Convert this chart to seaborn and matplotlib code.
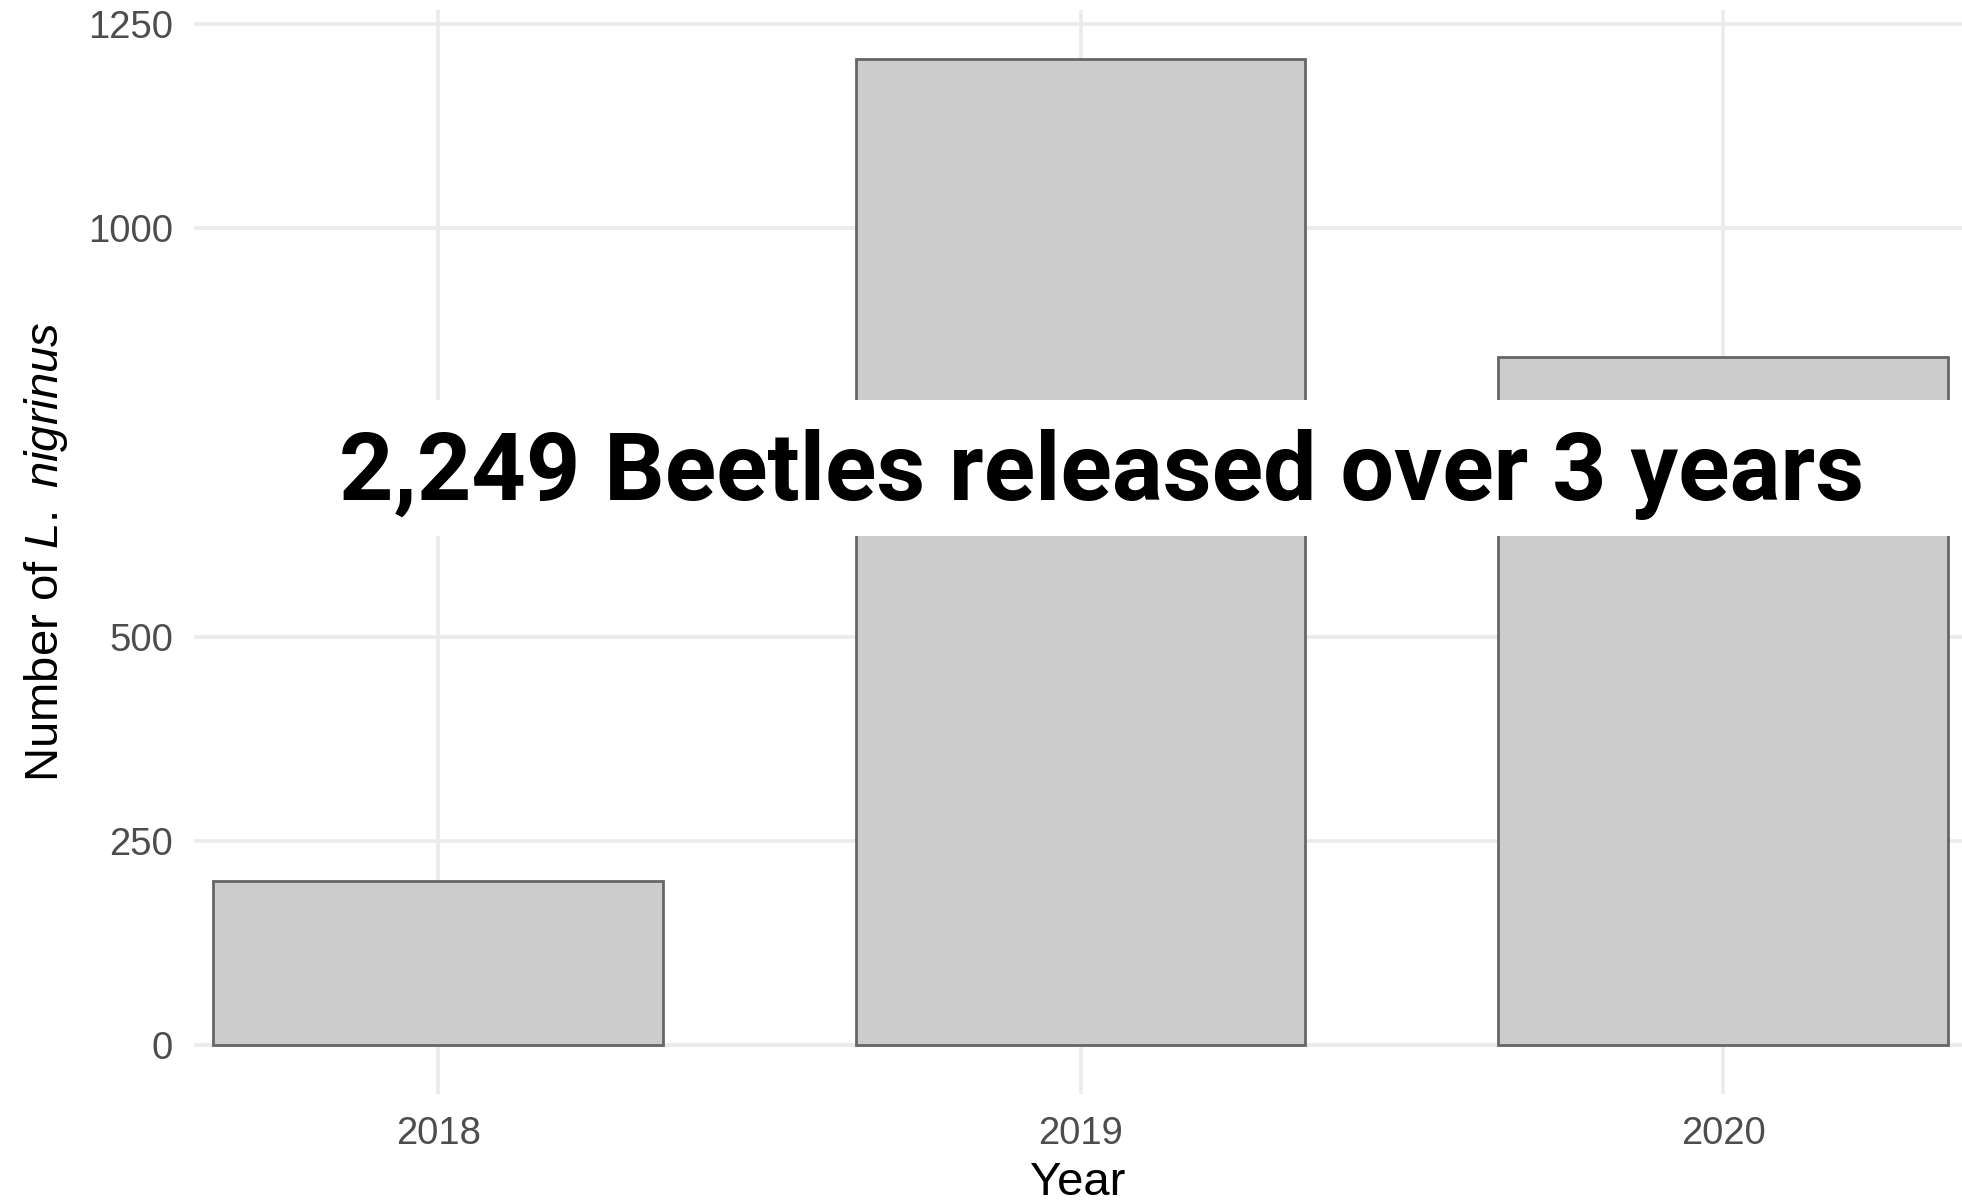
import matplotlib
matplotlib.use('Agg')
import matplotlib.pyplot as plt
import seaborn as sns
import pandas as pd
from matplotlib.patches import Rectangle

# beetle releases per year
years = ['2018', '2019', '2020']
released = [200, 1207, 842]
y_ticks = [0, 250, 500, 750, 1000, 1250]

df = pd.DataFrame({'Year': years, 'Released': released})
total = sum(released)

sns.set_theme(style='whitegrid')
plt.rcParams['font.family'] = ['Liberation Sans', 'DejaVu Sans']
plt.rcParams['mathtext.fontset'] = 'custom'
plt.rcParams['mathtext.rm'] = 'Liberation Sans'
plt.rcParams['mathtext.it'] = 'Liberation Sans:italic'

fig = plt.figure(figsize=(19.62, 12.03), dpi=100)
ax = fig.add_axes([194 / 1962, 109 / 1203, 1768 / 1962, 1084 / 1203])

sns.barplot(data=df, x='Year', y='Released', color='#CCCCCC', saturation=1,
            edgecolor='#666666', linewidth=2.0, width=0.7, ax=ax, zorder=3)

ax.set_xlim(-0.38, 2.372)
ax.set_ylim(-60.35, 1267.35)
ax.set_yticks(y_ticks)

ax.grid(True, color='#EBEBEB', linewidth=2.6)
ax.set_axisbelow(True)
for s in ax.spines.values():
    s.set_visible(False)
ax.tick_params(axis='both', length=0, labelsize=27.5, labelcolor='#4D4D4D')
ax.tick_params(axis='x', pad=16)
ax.tick_params(axis='y', pad=15)

ax.set_xlabel('Year', fontsize=34, color='black', labelpad=6)
ax.set_ylabel(r'Number of $\it{L.}$ $\it{nigrinus}$', fontsize=34, color='black', labelpad=13)

# white banner with the total
ax.add_patch(Rectangle((69 / 1962, (1203 - 536) / 1203), 1 - 69 / 1962, 136 / 1203,
                       transform=fig.transFigure, facecolor='white', edgecolor='none',
                       clip_on=False, zorder=10))
fig.text(1102 / 1962, (1203 - 500) / 1203, f'{total:,} Beetles released over {len(years)} years',
         ha='center', va='baseline', fontsize=68.5, fontweight='bold', family='Roboto',
         color='black', zorder=11)

plt.savefig('out.png', dpi=100)
